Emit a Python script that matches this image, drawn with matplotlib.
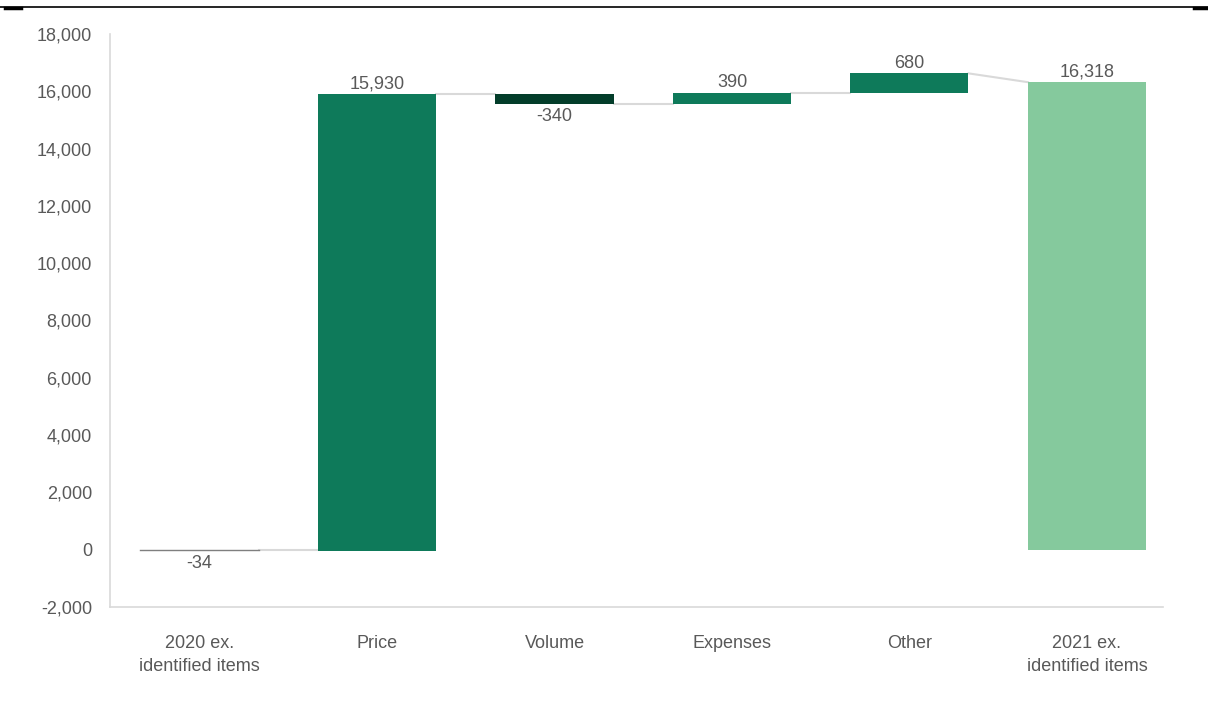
import matplotlib.pyplot as plt
from matplotlib.lines import Line2D
import numpy as np

# waterfall data
categories = ['2020 ex.\nidentified items', 'Price', 'Volume', 'Expenses', 'Other',
              '2021 ex.\nidentified items']
values = [-34, 15930, -340, 390, 680, 16318]
is_total = [True, False, False, False, False, True]
labels = ['-34', '15,930', '-340', '390', '680', '16,318']

UP = '#0E7A5A'
DOWN = '#033D2A'
TOTAL = '#85C99D'
START = '#7F7F7F'
TXT = '#595959'
GRID = '#D9D9D9'
FS = 13

plt.rcParams['font.family'] = ['Liberation Sans', 'DejaVu Sans']

fig = plt.figure(figsize=(12.08, 7.04), dpi=100)
ax = fig.add_axes([0.0911, 0.1378, 0.8716, 0.8139])

x = np.arange(len(categories))
w = 0.665

# compute bar bottoms / tops
bottoms = []
tops = []
running = 0
for i, v in enumerate(values):
    if is_total[i]:
        b, t = 0, v
        running = v
    else:
        b, t = running, running + v
        running = running + v
    bottoms.append(b)
    tops.append(t)

colors = []
for i, v in enumerate(values):
    if i == 0:
        colors.append(START)
    elif is_total[i]:
        colors.append(TOTAL)
    elif v < 0:
        colors.append(DOWN)
    else:
        colors.append(UP)

heights = [t - b for b, t in zip(bottoms, tops)]
ax.bar(x, heights, bottom=bottoms, width=w, color=colors, zorder=3)
# the first bar is tiny, draw it as a line
ax.plot([x[0] - w / 2, x[0] + w / 2], [0, 0], color=START, lw=1.0, zorder=4)

# connectors
for i in range(len(values) - 1):
    y0 = 0 if i == 0 else tops[i]
    if i == 0:
        y1 = 0
    elif is_total[i + 1]:
        y1 = tops[i + 1]
    else:
        y1 = bottoms[i + 1]
    ax.plot([x[i] + w / 2, x[i + 1] - w / 2], [y0, y1], color=GRID, lw=1.5, zorder=2)

# value labels
for i, v in enumerate(values):
    if v < 0:
        ax.annotate(labels[i], (x[i], min(bottoms[i], tops[i])), xytext=(0, -3),
                    textcoords='offset points', ha='center', va='top',
                    fontsize=FS, color=TXT)
    else:
        ax.annotate(labels[i], (x[i], max(bottoms[i], tops[i])), xytext=(0, 1),
                    textcoords='offset points', ha='center', va='bottom',
                    fontsize=FS, color=TXT)

ax.set_xlim(-0.504, 5.428)
ax.set_ylim(-2000, 18000)
ax.set_yticks(np.arange(-2000, 18001, 2000))
ax.set_yticklabels([f'{t:,}' for t in range(-2000, 18001, 2000)])
ax.set_xticks(x)
ax.set_xticklabels(categories, linespacing=1.5)
ax.tick_params(axis='both', length=0, labelsize=FS, labelcolor=TXT)
ax.tick_params(axis='x', pad=20)
ax.tick_params(axis='y', pad=13)

for s in ['top', 'right']:
    ax.spines[s].set_visible(False)
for s in ['left', 'bottom']:
    ax.spines[s].set_color(GRID)
    ax.spines[s].set_linewidth(1.2)

# rule at the top of the figure
fig.add_artist(Line2D([0, 1], [0.990, 0.990], color='black', lw=1.2, transform=fig.transFigure))
fig.add_artist(Line2D([0.004, 0.017], [0.988, 0.988], color='black', lw=2.5, transform=fig.transFigure))
fig.add_artist(Line2D([0.988, 1.0], [0.988, 0.988], color='black', lw=2.5, transform=fig.transFigure))

fig.savefig('out.png', dpi=100)
